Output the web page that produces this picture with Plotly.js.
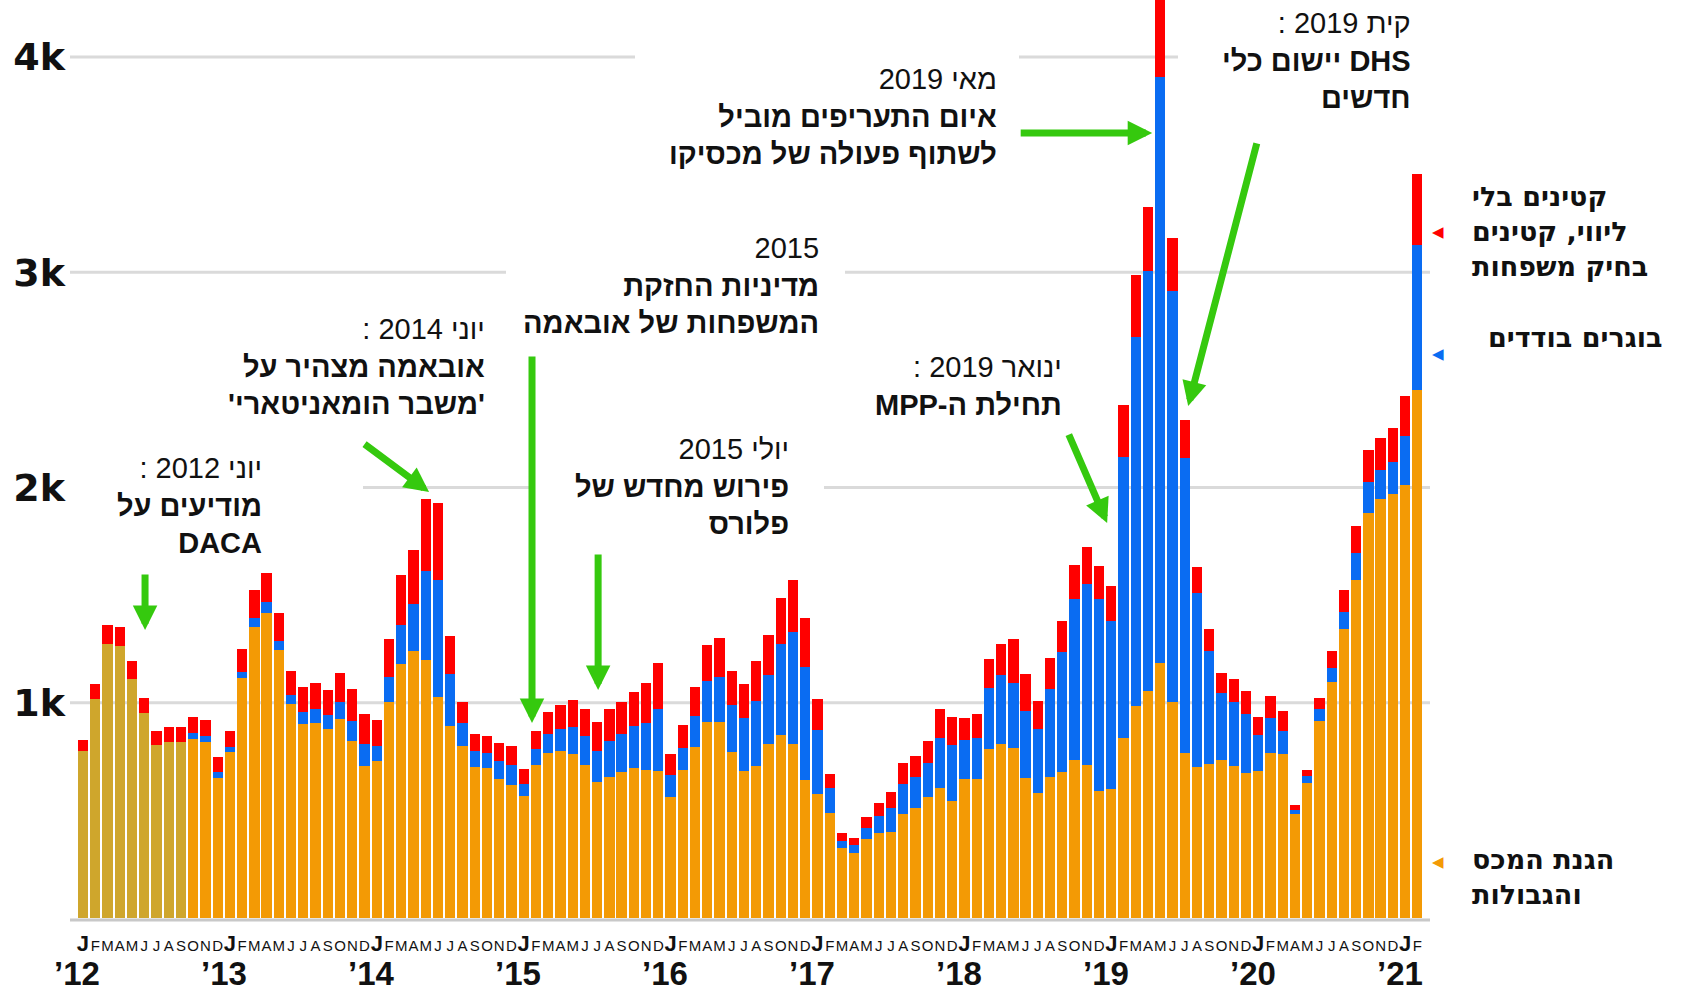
<!DOCTYPE html>
<html><head><meta charset="utf-8">
<script src="https://cdn.plot.ly/plotly-3.0.1.min.js"></script>
<style>html,body{margin:0;padding:0;background:#fff;overflow:hidden}</style>
</head><body>
<div id="chart" style="width:1688px;height:991px"></div>
<script>
// ---- data (monthly, Jan 2012 - Feb 2021) ----
const months = ['J','F','M','A','M','J','J','A','S','O','N','D'];
const years = ['’12','’13','’14','’15','’16','’17','’18','’19','’20','’21'];
// Border Patrol / CBP (orange)
const cbp = [
  774,1016,1272,1265,1110,954,803,816,819,833,816,652,
  769,1113,1350,1419,1246,994,902,907,876,924,824,705,
  728,1005,1180,1240,1200,1025,892,799,700,695,647,616,
  568,709,766,776,762,709,630,655,680,697,687,681,
  563,687,796,912,912,769,681,706,807,851,808,641,
  576,489,324,300,367,393,398,483,512,563,605,543,
  648,645,783,808,788,649,579,653,678,735,711,592,
  598,836,986,1055,1185,1003,767,703,715,735,704,673,
  684,768,760,481,625,916,1096,1341,1570,1880,1946,1972,
  2014,2452];
// single adults (blue)
const singleAdults = [
  0,0,0,0,0,0,0,0,0,28,28,28,
  27,29,42,47,42,42,53,62,67,78,92,105,
  73,116,182,217,410,545,241,105,76,70,82,93,
  54,74,88,102,125,136,146,167,174,195,217,291,
  102,104,142,187,207,222,246,302,320,421,519,523,
  299,113,35,39,53,79,111,139,141,158,231,262,
  181,193,287,323,304,312,299,412,556,748,839,890,
  780,1304,1714,1951,2722,1909,1371,808,526,309,299,277,
  164,159,110,21,34,53,67,82,128,146,135,146,
  227,673];
// unaccompanied minors & family units (red)
const minorsFamilies = [
  53,71,90,89,82,68,64,73,70,72,77,69,
  71,107,133,139,127,110,116,121,117,137,146,140,
  121,173,231,255,339,356,177,101,78,82,85,91,
  68,84,101,110,125,127,134,150,151,158,186,215,
  99,108,136,170,180,156,160,187,187,216,244,231,
  142,67,34,33,49,64,78,98,98,103,133,127,
  102,111,134,143,204,173,129,144,144,158,176,152,
  164,243,289,297,420,247,178,121,104,93,109,106,
  87,106,93,24,28,54,77,99,122,150,150,159,
  183,333];
const yTickVals = [1000,2000,3000,4000];
const yTickText = ['1k','2k','3k','4k'];

// ---- styling / layout ----
const GOLD = '#cfa62c', ORANGE = '#f39a05', BLUE = '#0a6cf2', RED = '#ff0000', GREEN = '#35c90e';
const W = 1688, H = 991, L = 70, R = 1428, B = 918;
const yMax = 4265, xMin = -1.06, xMax = 109.87;
const px = xf => (xf - L) / (R - L);
const py = yf => (B - yf) / B;
const RLE = '\u202B', PDF = '\u202C';
const rtl = s => RLE + s + PDF;

const idx = cbp.map((_, i) => i);
const orangeColors = idx.map(i => i < 9 ? GOLD : ORANGE); // FY2012 in gold
const tickText = idx.map(i => {
  const m = months[i % 12];
  return (i % 12 === 0) ? '<b>' + m + '</b>' : '<span style="font-size:15px">' + m + '</span>';
});

const traces = [
  {type:'bar', x: idx, y: cbp, marker:{color: orangeColors, line:{width:0}}, hoverinfo:'skip'},
  {type:'bar', x: idx, y: singleAdults, marker:{color: BLUE, line:{width:0}}, hoverinfo:'skip'},
  {type:'bar', x: idx, y: minorsFamilies, marker:{color: RED, line:{width:0}}, hoverinfo:'skip'}
];

// gridline segments [value, x0px, x1px]
const gridSegs = [[4000,70,635],[4000,1019,1178],[3000,70,506],[3000,845,1430],
                  [2000,363,535],[2000,824,1430],[1000,70,1430]];
const shapes = gridSegs.map(s => ({type:'line', xref:'paper', yref:'paper',
  x0: px(s[1]), x1: px(s[2]), y0: s[0]/yMax, y1: s[0]/yMax,
  line:{color:'#dadada', width:3}, layer:'below'}));
shapes.push({type:'line', xref:'paper', yref:'paper', x0: px(70), x1: px(1430),
  y0: -2/B, y1: -2/B, line:{color:'#c8c8c8', width:3}, layer:'below'});

const textFont = {family:'Liberation Sans, Arial, sans-serif', size:29, color:'#111'};
const legFont = {family:'DejaVu Sans, sans-serif', size:27, color:'#111'};
function note(lines, xr, yc) {
  return {xref:'paper', yref:'paper', x: px(xr), y: py(yc), xanchor:'right', yanchor:'middle',
    align:'right', showarrow:false, font:textFont, text: lines.join('<br>')};
}
const reg = s => rtl(s);
const bold = s => '<b>' + rtl(s) + '</b>';

const annotations = [
  note([reg('יוני 2012 :'), bold('מודיעים על'), bold('DACA')], 264, 506),
  note([reg('יוני 2014 :'), bold('אובאמה מצהיר על'), bold("'משבר הומאניטארי'")], 487, 366),
  note([reg('2015'), bold('מדיניות החזקת'), bold('המשפחות של אובאמה')], 821, 286),
  note([reg('יולי 2015'), bold('פירוש מחדש של'), bold('פלורס')], 791, 486),
  note([reg('מאי 2019'), bold('איום התעריפים מוביל'), bold('לשתוף פעולה של מכסיקו')], 999, 117),
  note([reg('ינואר 2019 :'), bold('תחילת ה-MPP')], 1064, 386),
  note([reg('קית 2019 :'), bold('DHS יישום כלי'), bold('חדשים')], 1413, 61)
];

// legend labels on the right
function leg(lines, xl, yc) {
  return {xref:'paper', yref:'paper', x: px(xl), y: py(yc), xanchor:'left', yanchor:'middle',
    align:'left', showarrow:false, font:legFont, text: lines.map(bold).join('<br>')};
}
annotations.push(leg(['קטינים בלי','ליווי, קטינים','בחיק משפחות'], 1470, 231));
annotations.push(leg(['בוגרים בודדים'], 1486, 337));
annotations.push(leg(['הגנת המכס','והגבולות'], 1470, 877));
[[RED,232],[BLUE,354],[ORANGE,862]].forEach(t => annotations.push({
  xref:'paper', yref:'paper', x: px(1438), y: py(t[1]), xanchor:'center', yanchor:'middle',
  showarrow:false, text:'◀', font:{family:'DejaVu Sans', size:15, color:t[0]}}));

// year labels
years.forEach((yr, k) => annotations.push({xref:'x', yref:'paper', x: 12*k - 0.45, y: py(973),
  xanchor:'center', yanchor:'middle', showarrow:false, text:'<b>' + yr + '</b>',
  font:{family:'Liberation Sans, Arial, sans-serif', size:33, color:'#111'}}));

// green arrows: tip in data coords, tail offset in px
const arrows = [
  [5.07,1338,0,-57],[28.27,1979,-66,-49],[36.68,906,0,-368],[42.08,1059,0,-137],
  [87.34,3647,-133,0],[83.66,1835,-39,-90],[90.28,2379,69,-264]
];
arrows.forEach(a => annotations.push({xref:'x', yref:'y', x:a[0], y:a[1], ax:a[2], ay:a[3],
  text:'', showarrow:true, arrowhead:2, arrowsize:0.7, arrowwidth:7, arrowcolor:GREEN, standoff:0}));

const layout = {
  width:W, height:H, margin:{l:L, r:W-R, t:0, b:H-B, autoexpand:false},
  paper_bgcolor:'#fff', plot_bgcolor:'#fff', barmode:'stack', bargap:0.16, showlegend:false,
  xaxis:{range:[xMin,xMax], tickmode:'array', tickvals:idx, ticktext:tickText, tickangle:0,
    showgrid:false, zeroline:false, showline:false, ticks:'', ticklabelstandoff:10,
    tickfont:{family:'Liberation Sans, Arial, sans-serif', size:22, color:'#111'}, fixedrange:true},
  yaxis:{range:[0,yMax], tickmode:'array', tickvals:yTickVals, ticktext:yTickText,
    showgrid:false, zeroline:false, showline:false, ticks:'', ticklabelstandoff:4,
    tickfont:{family:'DejaVu Sans, sans-serif', size:38, color:'#111', weight:700}, fixedrange:true},
  shapes: shapes, annotations: annotations
};
Plotly.newPlot('chart', traces, layout, {displayModeBar:false, staticPlot:true});
</script>
</body></html>
